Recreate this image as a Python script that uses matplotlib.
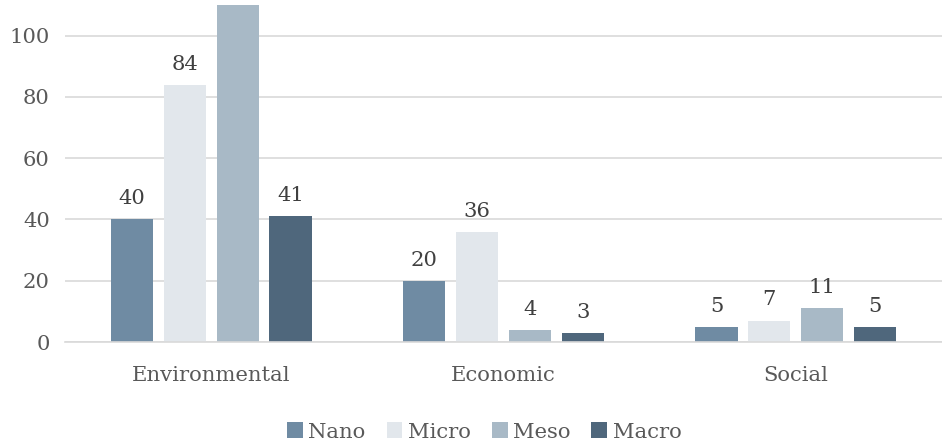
import matplotlib
matplotlib.use("Agg")
import matplotlib.pyplot as plt
import numpy as np

categories = ["Environmental", "Economic", "Social"]
series = ["Nano", "Micro", "Meso", "Macro"]
nano = [40, 20, 5]
micro = [84, 36, 7]
meso = [112, 4, 11]
macro = [41, 3, 5]
colors = ["#6f8ba3", "#e2e7ec", "#a8b9c6", "#4f677c"]
yticks = [0, 20, 40, 60, 80, 100]

plt.rcParams["font.family"] = ["DejaVu Serif"]
text_color = "#404040"
fs = 15.2

fig = plt.figure(figsize=(9.42, 4.44), dpi=100)
ax = fig.add_axes([0.069, 0.2297, 0.931, 0.759])

x = np.arange(len(categories))
step = 0.181
width = 0.144
for i, (name, vals, c) in enumerate(zip(series, [nano, micro, meso, macro], colors)):
    pos = x + (i - 1.5) * step
    bars = ax.bar(pos, vals, width=width, color=c, label=name, zorder=2)
    for b, v in zip(bars, vals):
        ax.annotate(str(v), (b.get_x() + b.get_width() / 2, v),
                    xytext=(0, 8), textcoords="offset points",
                    ha="center", va="bottom", fontsize=fs,
                    color=text_color, annotation_clip=True)

ax.set_xlim(-0.5, 2.5)
ax.set_ylim(0, 110)
ax.set_yticks(yticks)
ax.set_xticks(x)
ax.set_xticklabels(categories)
ax.yaxis.grid(True, color="#d9d9d9", linewidth=1.2, zorder=0)
ax.set_axisbelow(True)
for s in ["top", "right", "left"]:
    ax.spines[s].set_visible(False)
ax.spines["bottom"].set_color("#d9d9d9")
ax.spines["bottom"].set_linewidth(1.2)
ax.tick_params(axis="both", length=0, labelsize=fs, labelcolor="#595959")
ax.tick_params(axis="x", pad=17)
ax.tick_params(axis="y", pad=11)

leg = fig.legend(loc="center", bbox_to_anchor=(0.514, 0.027), ncol=4, frameon=False,
                 fontsize=fs, handlelength=0.75, handleheight=0.75,
                 handletextpad=0.25, columnspacing=1.0)
for t in leg.get_texts():
    t.set_color("#595959")

fig.savefig("out.png", dpi=100)
